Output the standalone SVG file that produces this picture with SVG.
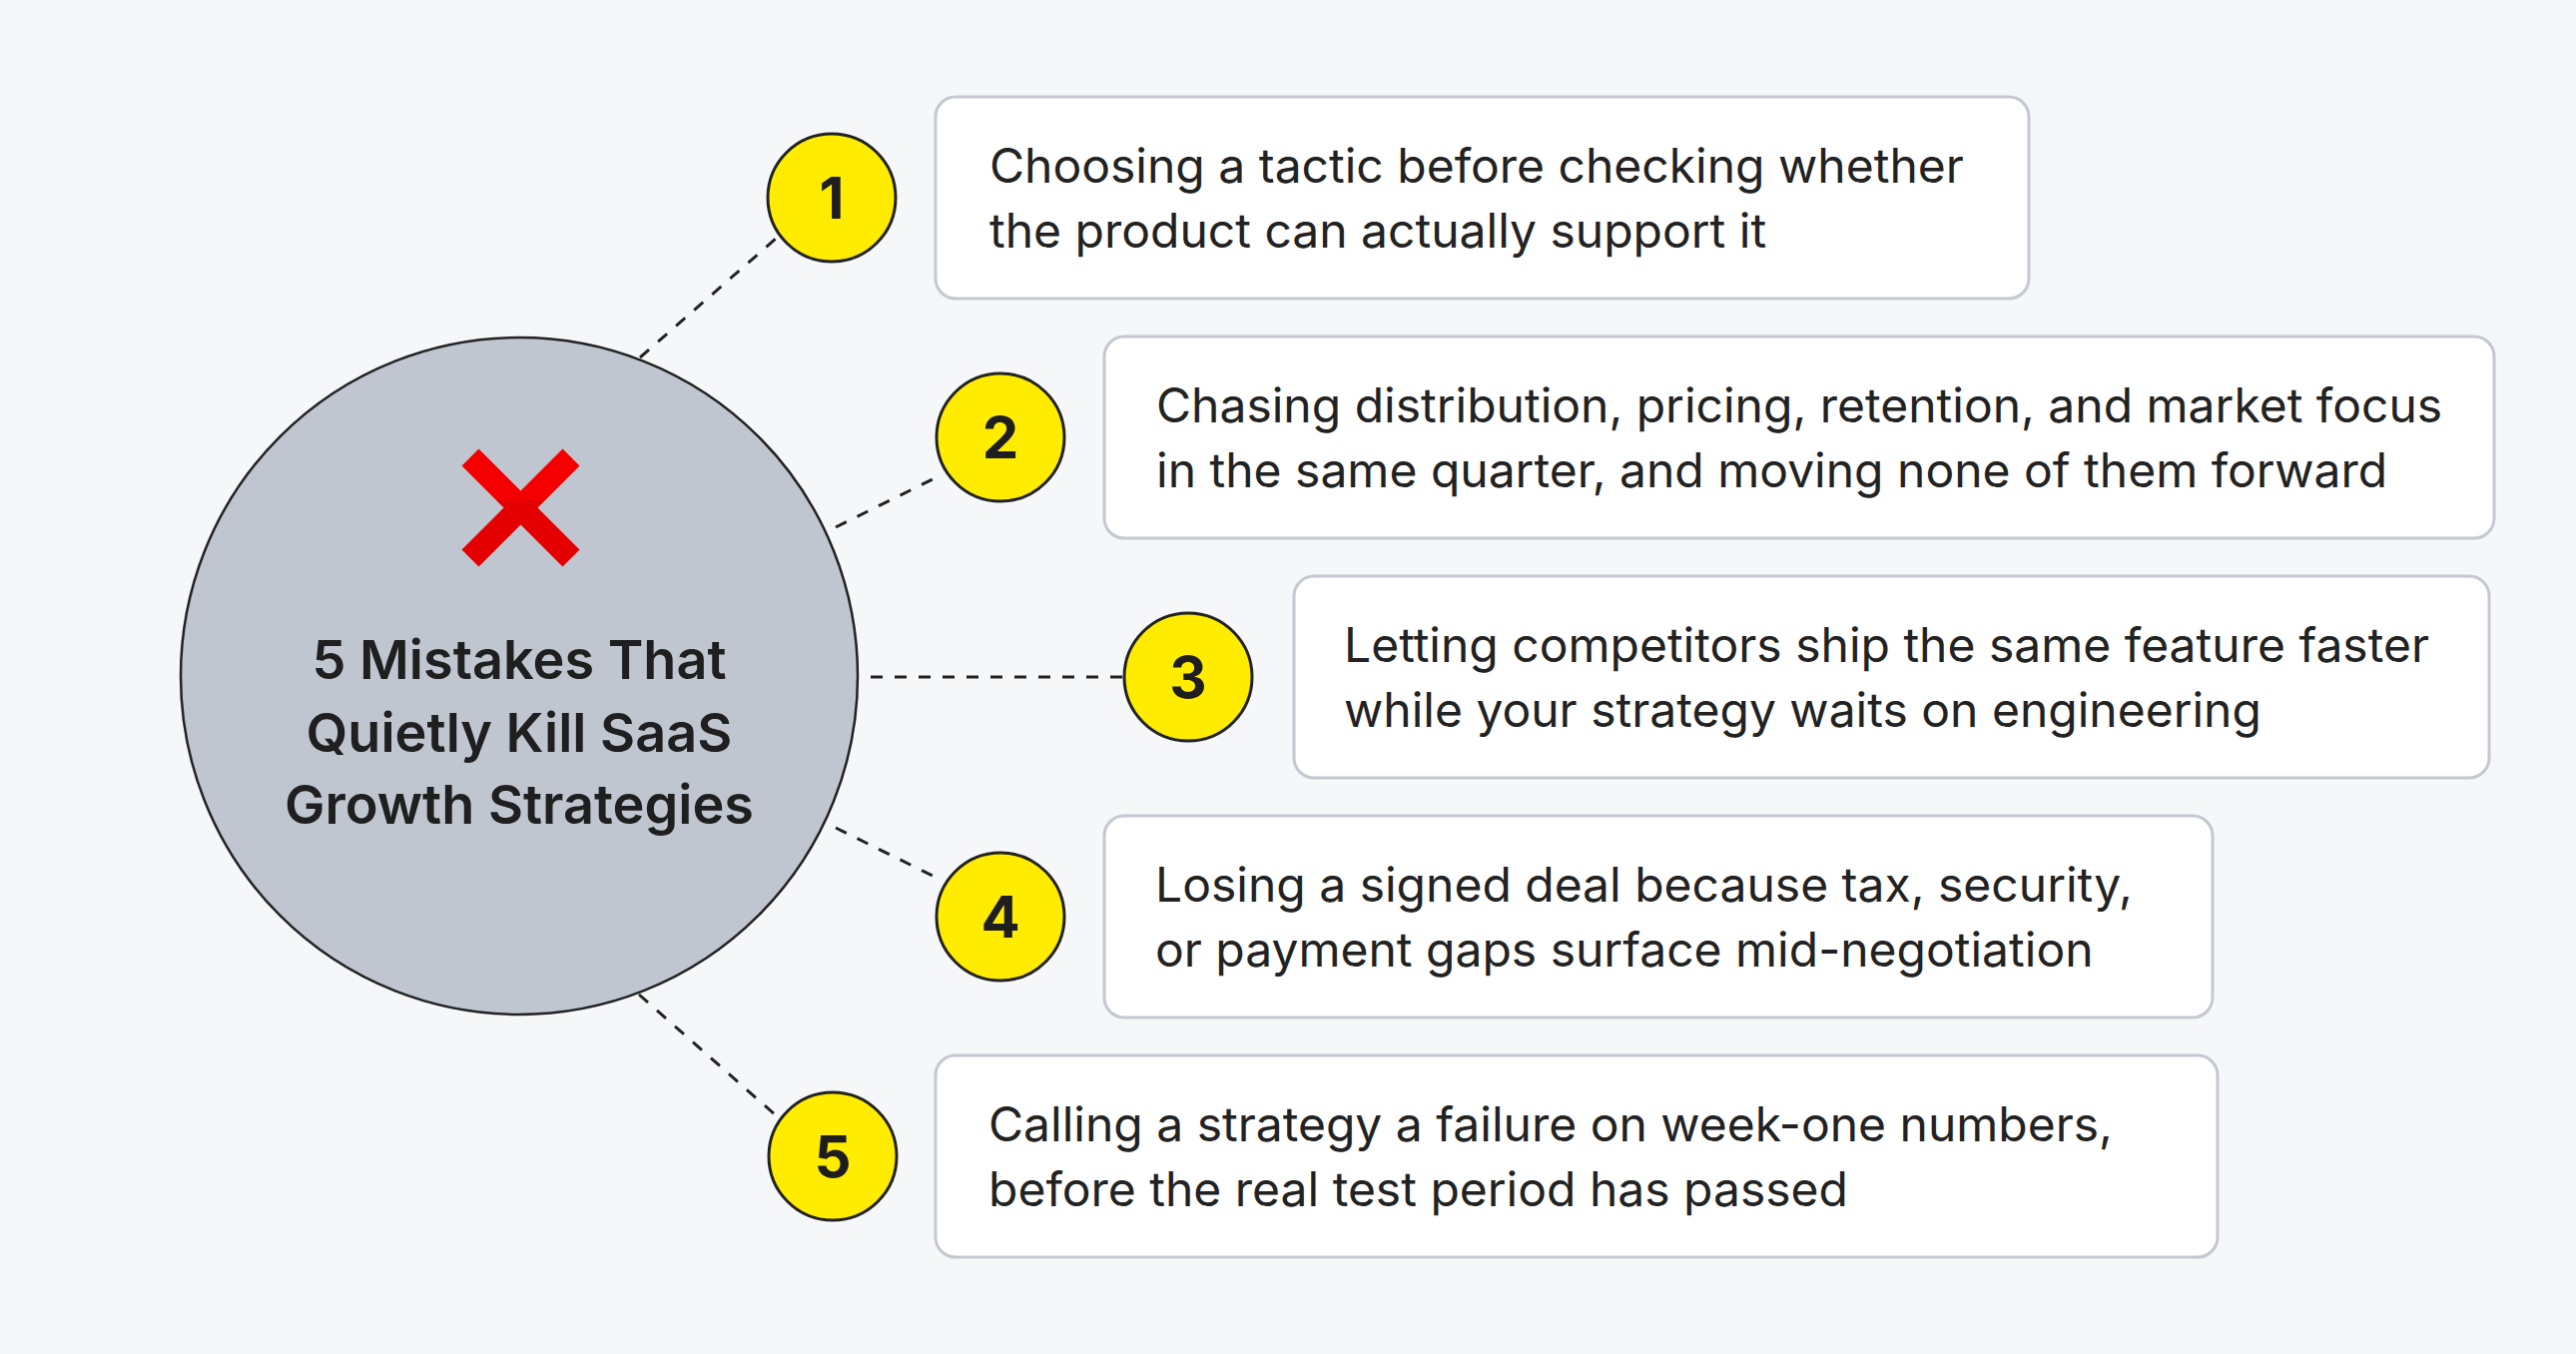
<svg xmlns="http://www.w3.org/2000/svg" width="2580" height="1356" viewBox="0 0 2580 1356">
  <style>
    .conn { stroke: #222; stroke-width: 3; stroke-dasharray: 12 12; fill: none; }
    .box { fill: #ffffff; stroke: #c3c8d1; stroke-width: 3; }
    .num { fill: #ffec00; stroke: #222; stroke-width: 3; }
    .numt { font-family: Inter, "Liberation Sans", sans-serif; font-weight: 700; font-size: 58px; fill: #1e1e1e; text-anchor: middle; }
    .bt { font-family: Inter, "Liberation Sans", sans-serif; font-weight: 400; font-size: 48px; fill: #222; }
    .title { font-family: Inter, "Liberation Sans", sans-serif; font-weight: 600; font-size: 54px; fill: #1f1f1f; text-anchor: middle; }
  </style>
  <defs>
    <linearGradient id="xg" gradientUnits="userSpaceOnUse" x1="0" y1="450" x2="0" y2="568">
      <stop offset="0.43" stop-color="#f40000"/>
      <stop offset="0.43" stop-color="#e40000"/>
    </linearGradient>
  </defs>
  <rect width="2580" height="1356" fill="#f6f7f9"/>

  <g id="connectors">
    <line class="conn" x1="641" y1="358" x2="777" y2="239"/>
    <line class="conn" x1="837" y1="528" x2="940" y2="477"/>
    <line class="conn" x1="872" y1="678" x2="1126" y2="678"/>
    <line class="conn" x1="837" y1="829" x2="940" y2="880"/>
    <line class="conn" x1="640" y1="996" x2="777" y2="1117"/>
  </g>

  <g id="center">
    <circle cx="520" cy="677" r="339" fill="#c0c6d0" stroke="#222" stroke-width="2.5"/>
    <g stroke="url(#xg)" stroke-width="24">
      <line x1="471" y1="458" x2="572" y2="559"/>
      <line x1="572" y1="458" x2="471" y2="559"/>
    </g>
    <text class="title" x="520" y="680">5 Mistakes That</text>
    <text class="title" x="520" y="753">Quietly Kill SaaS</text>
    <text class="title" x="520" y="825">Growth Strategies</text>
  </g>

  <g id="item1">
    <rect class="box" x="937" y="97" width="1095" height="202" rx="20"/>
    <text class="bt" x="991" y="183">Choosing a tactic before checking whether</text>
    <text class="bt" x="991" y="248">the product can actually support it</text>
    <circle class="num" cx="833" cy="198" r="64"/>
    <text class="numt" x="833" y="219">1</text>
  </g>

  <g id="item2">
    <rect class="box" x="1106" y="337" width="1392" height="202" rx="20"/>
    <text class="bt" x="1158" y="423">Chasing distribution, pricing, retention, and market focus</text>
    <text class="bt" x="1158" y="488">in the same quarter, and moving none of them forward</text>
    <circle class="num" cx="1002" cy="438" r="64"/>
    <text class="numt" x="1002" y="459">2</text>
  </g>

  <g id="item3">
    <rect class="box" x="1296" y="577" width="1197" height="202" rx="20"/>
    <text class="bt" x="1346" y="663">Letting competitors ship the same feature faster</text>
    <text class="bt" x="1346" y="728">while your strategy waits on engineering</text>
    <circle class="num" cx="1190" cy="678" r="64"/>
    <text class="numt" x="1190" y="699">3</text>
  </g>

  <g id="item4">
    <rect class="box" x="1106" y="817" width="1110" height="202" rx="20"/>
    <text class="bt" x="1157" y="903">Losing a signed deal because tax, security,</text>
    <text class="bt" x="1157" y="968">or payment gaps surface mid-negotiation</text>
    <circle class="num" cx="1002" cy="918" r="64"/>
    <text class="numt" x="1002" y="939">4</text>
  </g>

  <g id="item5">
    <rect class="box" x="937" y="1057" width="1284" height="202" rx="20"/>
    <text class="bt" x="990" y="1143">Calling a strategy a failure on week-one numbers,</text>
    <text class="bt" x="990" y="1208">before the real test period has passed</text>
    <circle class="num" cx="834" cy="1158" r="64"/>
    <text class="numt" x="834" y="1179">5</text>
  </g>
</svg>
